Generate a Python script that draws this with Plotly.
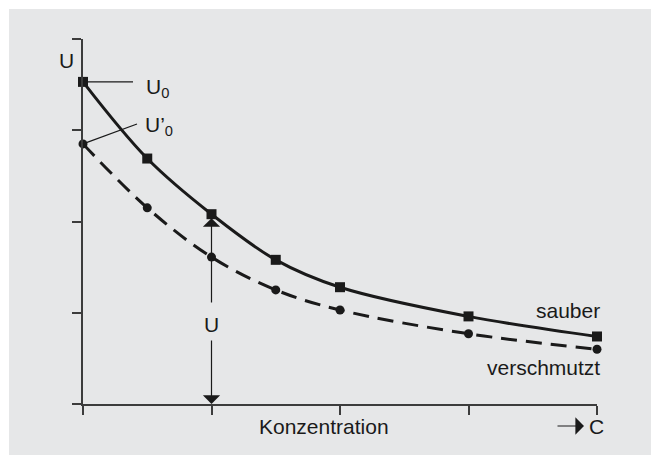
import plotly.graph_objects as go

# ---- data ----
conc = [0, 0.5, 1, 1.5, 2, 3, 4]
sauber = [3.53, 2.69, 2.08, 1.58, 1.28, 0.96, 0.74]
verschmutzt = [2.85, 2.15, 1.61, 1.25, 1.03, 0.77, 0.60]
tick_vals = [0, 1, 2, 3, 4]

W, H = 651, 455
ML, MR, MT, MB = 83, 54, 39, 51
PW, PH = W - ML - MR, H - MT - MB
XR, YR = [0, 4], [0, 4]
GREY = "#e6e7e8"


def qx(px):  # pixel -> paper x
    return (px - ML) / PW


def qy(py):  # pixel -> paper y
    return (H - MB - py) / PH


def py_of(v):
    return H - MB - (v - YR[0]) / (YR[1] - YR[0]) * PH


def px_of(v):
    return ML + (v - XR[0]) / (XR[1] - XR[0]) * PW


INK = "#1a1a1a"
AX = "#3c3c3c"
FONT = "Liberation Sans, Arial, sans-serif"
FS = 21

fig = go.Figure()
fig.add_trace(go.Scatter(
    x=conc, y=verschmutzt, mode="lines+markers", name="verschmutzt",
    line=dict(color=INK, width=3, shape="spline", dash="16px,9px"),
    marker=dict(symbol="circle", size=9, color=INK),
    cliponaxis=False, showlegend=False))
fig.add_trace(go.Scatter(
    x=conc, y=sauber, mode="lines+markers", name="sauber",
    line=dict(color=INK, width=3, shape="spline"),
    marker=dict(symbol="square", size=10, color=INK),
    cliponaxis=False, showlegend=False))

# white frame strips at left and top (rest of page is grey)
shapes = [
    dict(type="rect", xref="paper", yref="paper", layer="below",
         x0=qx(-2), x1=qx(9), y0=qy(H + 2), y1=qy(-2),
         fillcolor="white", line=dict(width=0)),
    dict(type="rect", xref="paper", yref="paper", layer="below",
         x0=qx(-2), x1=qx(W + 2), y0=qy(9), y1=qy(-2),
         fillcolor="white", line=dict(width=0)),
]

# leader lines from U0 and U'0 points
x0p, s0p, v0p = px_of(conc[0]), py_of(sauber[0]), py_of(verschmutzt[0])
shapes.append(dict(type="line", xref="paper", yref="paper",
                   x0=qx(x0p), y0=qy(s0p), x1=qx(133), y1=qy(s0p),
                   line=dict(color=INK, width=1.3)))
shapes.append(dict(type="line", xref="paper", yref="paper",
                   x0=qx(x0p), y0=qy(v0p), x1=qx(137), y1=qy(124),
                   line=dict(color=INK, width=1.3)))

ann = []


def txt(t, px, py, xa="center"):
    ann.append(dict(text=t, x=qx(px), y=qy(py), xref="paper", yref="paper",
                    showarrow=False, xanchor=xa, yanchor="middle",
                    font=dict(family=FONT, size=FS, color=INK)))


txt("U", 66, 61)
txt("U<sub>0</sub>", 144, 88, "left")
txt("U\u2019<sub>0</sub>", 143, 126, "left")
txt("U", px_of(conc[2]), 324)
txt("Konzentration", 324, 426)
txt("sauber", 602, 310, "right")
txt("verschmutzt", 602, 367, "right")
txt("C", 596, 426)

# vertical double arrow for U at x = conc[2]
xa_ = conc[2]
ann.append(dict(x=xa_, y=sauber[2], xref="x", yref="y", ax=0,
                ay=308 - py_of(sauber[2]) - 4, text="", showarrow=True,
                arrowhead=1, arrowsize=2.4, arrowwidth=1.2, arrowcolor=INK,
                standoff=4))
ann.append(dict(x=xa_, y=0, xref="x", yref="y", ax=0,
                ay=339 - py_of(0), text="", showarrow=True,
                arrowhead=1, arrowsize=2.4, arrowwidth=1.2, arrowcolor=INK,
                standoff=0))
# arrow before C
ann.append(dict(x=qx(584), y=qy(426), xref="paper", yref="paper", ax=-28,
                ay=0, text="", showarrow=True, arrowhead=1, arrowsize=2.4,
                arrowwidth=1.2, arrowcolor=INK, standoff=0))

axis_common = dict(showgrid=False, zeroline=False, showline=True,
                   linecolor=AX, linewidth=1.5, ticks="outside", ticklen=9,
                   tickwidth=1.5, tickcolor=AX, showticklabels=False,
                   tickvals=tick_vals, fixedrange=True)

fig.update_layout(
    width=W, height=H,
    margin=dict(l=ML, r=MR, t=MT, b=MB, pad=0),
    paper_bgcolor=GREY, plot_bgcolor="rgba(0,0,0,0)",
    xaxis=dict(axis_common, range=XR),
    yaxis=dict(axis_common, range=YR),
    shapes=shapes, annotations=ann, showlegend=False,
    font=dict(family=FONT, size=FS, color=INK),
)

fig.write_html("out.html", config={"displayModeBar": False},
               post_script="document.body.style.margin='0';"
                           "document.body.style.padding='0';"
                           "document.body.style.overflow='hidden';"
                           "document.body.style.background='" + GREY + "';")
